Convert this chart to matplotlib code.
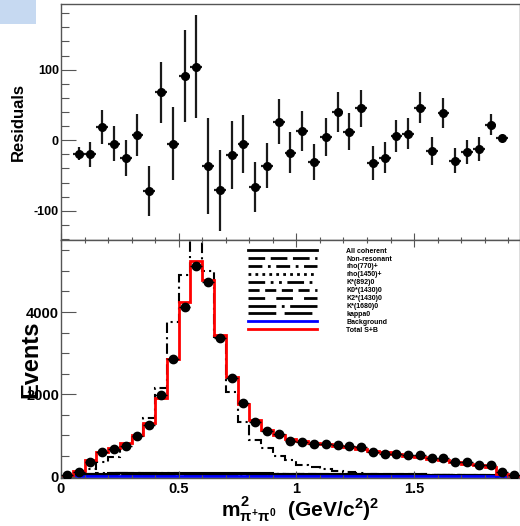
import numpy as np
import matplotlib
matplotlib.use("Agg")
import matplotlib.pyplot as plt
from matplotlib.patches import Rectangle
from matplotlib.lines import Line2D
from matplotlib.ticker import MultipleLocator

plt.rcParams['font.family'] = 'Liberation Sans'
plt.rcParams['font.weight'] = 'bold'
plt.rcParams['axes.unicode_minus'] = False
plt.rcParams['mathtext.fontset'] = 'custom'
plt.rcParams['mathtext.rm'] = 'Liberation Sans:bold'
plt.rcParams['mathtext.it'] = 'Liberation Sans:bold'
plt.rcParams['mathtext.bf'] = 'Liberation Sans:bold'

# 39 bins of m^2(pi+ pi0), 0 .. 1.95 GeV^2
edges = np.linspace(0.0, 1.95, 40)
centers = 0.5 * (edges[:-1] + edges[1:])

data = [30, 120, 365, 605, 665, 745, 995, 1250, 1980, 2850,
        4120, 5130, 4730, 3370, 2400, 1780, 1320, 1115, 1035, 870,
        835, 795, 780, 775, 735, 725, 605, 555, 555, 535,
        535, 445, 455, 365, 350, 285, 270, 100, 35]

total = [20, 138, 405, 605, 685, 805, 1010, 1310, 1915, 2870,
         4240, 5250, 4770, 3450, 2410, 1755, 1375, 1130, 1010, 905,
         865, 825, 785, 745, 710, 670, 630, 590, 550, 510,
         470, 430, 390, 350, 310, 270, 225, 60, 20]

rho770 = [0, 20, 190, 365, 485, 710, 970, 1415, 2160, 3760,
          4900, 6200, 4990, 3395, 2060, 1335, 890, 690, 500, 405,
          285, 220, 180, 145, 105, 80, 60, 45, 35, 30,
          25, 20, 15, 12, 10, 8, 5, 0, 0]

all_coherent = [5, 40, 60, 70, 75, 80, 80, 85, 90, 90,
                90, 90, 85, 85, 80, 80, 75, 75, 70, 70,
                70, 65, 65, 60, 60, 60, 55, 55, 50, 50,
                50, 45, 45, 40, 40, 35, 30, 10, 0]
nonres = [0, 30, 40, 45, 50, 55, 55, 60, 60, 60,
          60, 60, 60, 55, 55, 55, 55, 50, 50, 50,
          50, 50, 45, 45, 45, 45, 40, 40, 40, 40,
          35, 35, 35, 30, 30, 30, 25, 10, 0]
rho1450 = [0, 25, 35, 40, 40, 45, 45, 50, 50, 55,
           55, 55, 55, 55, 55, 55, 50, 50, 50, 50,
           50, 45, 45, 45, 45, 40, 40, 40, 35, 35,
           35, 30, 30, 30, 25, 25, 20, 5, 0]
kst892 = [0, 50, 70, 80, 85, 90, 90, 85, 80, 75,
          70, 65, 60, 60, 55, 55, 50, 50, 50, 45,
          45, 45, 45, 40, 40, 40, 40, 40, 35, 35,
          35, 35, 30, 30, 30, 30, 25, 10, 0]
k0st1430 = [0, 20, 30, 35, 40, 40, 45, 45, 45, 50,
            50, 50, 50, 50, 50, 55, 55, 55, 55, 55,
            60, 60, 60, 60, 60, 55, 55, 55, 50, 50,
            50, 45, 45, 40, 40, 35, 30, 10, 0]
k2st1430 = [0, 10, 15, 20, 20, 25, 25, 25, 30, 30,
            30, 30, 30, 30, 30, 30, 30, 30, 30, 30,
            30, 30, 30, 30, 30, 30, 25, 25, 25, 25,
            25, 25, 20, 20, 20, 20, 15, 5, 0]
kst1680 = [0, 15, 20, 25, 25, 30, 30, 30, 35, 35,
           35, 35, 35, 35, 40, 40, 40, 40, 40, 40,
           40, 40, 40, 40, 40, 40, 35, 35, 35, 35,
           35, 30, 30, 30, 25, 25, 20, 5, 0]
kappa = [0, 40, 60, 70, 75, 75, 75, 70, 70, 65,
         65, 60, 60, 55, 55, 50, 50, 50, 45, 45,
         45, 40, 40, 40, 40, 35, 35, 35, 35, 30,
         30, 30, 30, 25, 25, 25, 20, 5, 0]
background = [0, 5, 5, 5, 5, 5, 5, 5, 5, 5,
              5, 5, 5, 5, 5, 5, 5, 5, 5, 5,
              5, 5, 5, 5, 5, 5, 5, 5, 5, 5,
              5, 5, 5, 5, 5, 5, 5, 5, 0]

# residuals for bins 2..38
residuals = [-19, -20, 19, -5, -25, 7, -72, 68, -5, 91,
             104, -36, -71, -21, -5, -66, -36, 26, -18, 13,
             -31, 5, 40, 12, 45, -32, -25, 6, 9, 46,
             -15, 39, -29, -17, -13, 22, 3]
res_err = [9, 18, 24, 25, 26, 30, 35, 43, 52, 65,
           73, 68, 57, 48, 41, 35, 32, 32, 29, 28,
           26, 27, 28, 26, 26, 24, 22, 22, 22, 22,
           20, 21, 18, 17, 17, 15, 5]

components = [
    ("All coherent", all_coherent, '-'),
    ("Non-resonant", nonres, (0, (6, 2))),
    ("rho(770)+", rho770, (0, (5, 2, 1, 2))),
    ("rho(1450)+", rho1450, (0, (1, 1.5))),
    ("K*(892)0", kst892, (0, (6, 2, 1, 2, 1, 2))),
    ("K0*(1430)0", k0st1430, (0, (4, 2))),
    ("K2*(1430)0", k2st1430, (0, (6, 4))),
    ("K*(1680)0", kst1680, (0, (10, 2, 1, 2))),
    ("kappa0", kappa, (0, (10, 3))),
]

fig = plt.figure(figsize=(5.2, 5.26), dpi=100)
fig.patches.append(Rectangle((0, 0.954), 0.069, 0.046, transform=fig.transFigure,
                             facecolor='#c6d9f1', edgecolor='none'))

ax_top = fig.add_axes([0.1173, 0.5428, 0.8827, 0.4496])
ax_bot = fig.add_axes([0.1173, 0.0913, 0.8827, 0.4515])

frame = '#555555'
for ax in (ax_top, ax_bot):
    for sp in ax.spines.values():
        sp.set_color(frame)
        sp.set_linewidth(1.0)
    ax.set_xlim(0, 1.95)
    ax.xaxis.set_major_locator(MultipleLocator(0.5))
    ax.xaxis.set_minor_locator(MultipleLocator(0.1))
    ax.tick_params(which='both', direction='in', color=frame, width=0.8)
    ax.tick_params(which='major', length=5)
    ax.tick_params(which='minor', length=2.5)

# residual panel
ax_top.errorbar(centers[1:38], residuals, yerr=res_err, xerr=0.025, fmt='o',
                color='black', ecolor='#1a1a1a', elinewidth=1.6, markersize=5.5,
                capsize=0)
ax_top.set_ylim(-142, 193)
ax_top.yaxis.set_major_locator(MultipleLocator(100))
ax_top.yaxis.set_minor_locator(MultipleLocator(20))
ax_top.tick_params(axis='x', labelbottom=False)
ax_top.tick_params(axis='y', which='major', length=11, labelsize=9, pad=1.5)
ax_top.tick_params(axis='y', which='minor', length=6)
ax_top.set_ylabel('Residuals', fontsize=12, fontweight='bold', labelpad=6)

# fit panel
for label, vals, ls in components:
    ax_bot.stairs(vals, edges, baseline=None, color='black', linestyle=ls,
                  linewidth=1.5, label=label)
ax_bot.stairs(background, edges, baseline=None, color='#0000ff',
              linewidth=2, label='Background')
ax_bot.stairs(total, edges, baseline=None, color='#ff0000',
              linewidth=2, label='Total S+B')
ax_bot.errorbar(centers, data, xerr=0.025, fmt='o', color='black', ecolor='black',
                elinewidth=1, markersize=6, capsize=0, zorder=5)

ax_bot.set_ylim(-35, 5740)
ax_bot.yaxis.set_major_locator(MultipleLocator(2000))
ax_bot.yaxis.set_minor_locator(MultipleLocator(500))
ax_bot.tick_params(top=True, which='both')
ax_bot.tick_params(axis='y', which='major', length=11, labelsize=10.5, pad=1.5)
ax_bot.tick_params(axis='y', which='minor', length=6)
ax_bot.tick_params(axis='x', labelsize=10.5, pad=3)
ax_bot.set_xticks([0, 0.5, 1, 1.5])
ax_bot.set_xticklabels(['0', '0.5', '1', '1.5'])
ax_bot.set_ylabel('Events', fontsize=17, fontweight='bold', labelpad=-12)

leg_handles = [Line2D([], [], color='black', linestyle=ls, linewidth=2)
               for _, _, ls in components]
leg_handles.append(Line2D([], [], color='#0000ff', linewidth=2))
leg_handles.append(Line2D([], [], color='#ff0000', linewidth=2))
leg_labels = [c[0] for c in components] + ['Background', 'Total S+B']
ax_bot.legend(leg_handles, leg_labels, loc='upper left', bbox_to_anchor=(0.4065, 0.97),
              frameon=False, fontsize=5, handlelength=10, labelspacing=0.13,
              handletextpad=4.2, borderpad=0, borderaxespad=0)

fig.text(0.578, 0.03, r'$m^{2}_{\pi^{+}\pi^{0}}$  (GeV/c$^{2}$)$^{2}$',
         fontsize=15, fontweight='bold', ha='center', va='center')

fig.savefig('out.png', dpi=100)
